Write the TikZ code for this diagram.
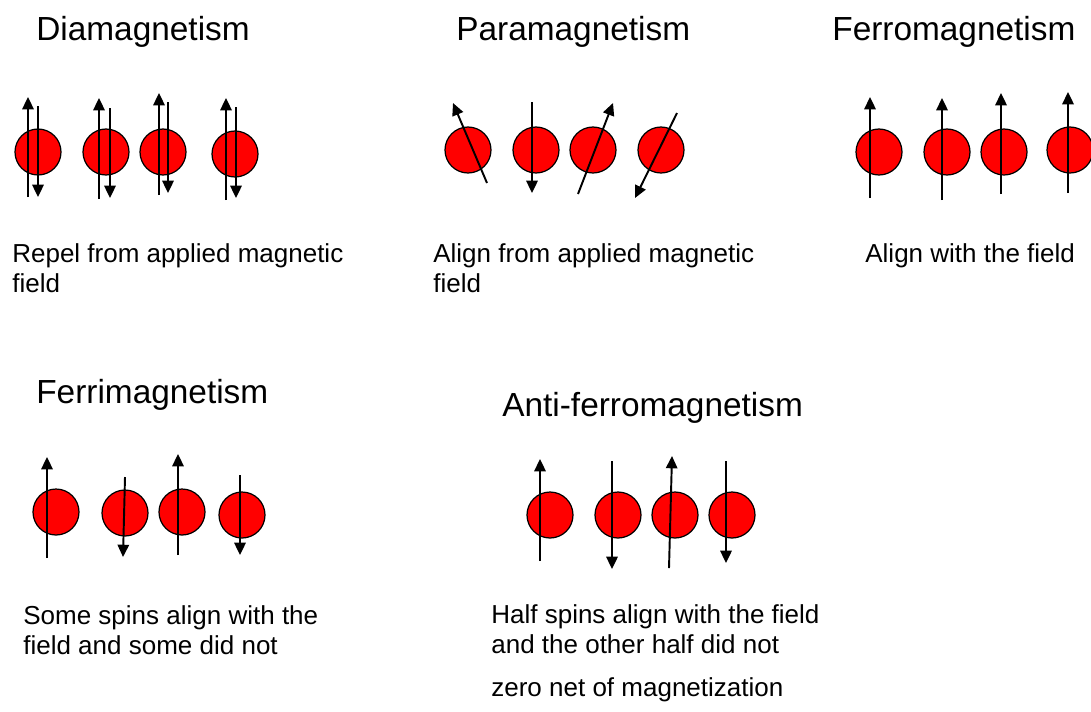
\documentclass[tikz,border=0pt]{standalone}
\usepackage{fontspec}
\setmainfont{Liberation Sans}
\usetikzlibrary{arrows.meta}

\begin{document}
\begin{tikzpicture}[
        x=0.02cm, y=-0.02cm,
        atom/.style={circle, draw=black, line width=0.7pt, fill=red, minimum size=0.92cm, inner sep=0pt},
        spin/.style={line width=1.1pt, -{Triangle[width=6.5pt,length=7pt]}},
        title/.style={anchor=base west, inner sep=0pt, font=\fontsize{19}{22}\selectfont},
        caption/.style={anchor=base west, inner sep=0pt, align=left, font=\fontsize{14.8}{17}\selectfont}
    ]
        \useasboundingbox (0,0) rectangle (1091,711);

        % Diamagnetism
        \node[title] (diatitle) at (36,40) {Diamagnetism};
        \node[atom] (dia1) at (38,152) {};
        \node[atom] (dia2) at (106,152) {};
        \node[atom] (dia3) at (163,152) {};
        \node[atom] (dia4) at (235,154) {};
        \draw[spin] (28,197) -- (28,97);
        \draw[spin] (38,106) -- (38,197);
        \draw[spin] (99,199) -- (99,98);
        \draw[spin] (110,108) -- (110,198);
        \draw[spin] (159,195) -- (159,93);
        \draw[spin] (168,102) -- (168,193);
        \draw[spin] (226,200) -- (226,98);
        \draw[spin] (236,107) -- (236,198);
        % (base anchor sits on the last line)
        \node[caption] (diatext) at (12,292) {Repel from applied magnetic\\field};

        % Paramagnetism
        \node[title] (paratitle) at (456,40) {Paramagnetism};
        \node[atom] (para1) at (468,150) {};
        \node[atom] (para2) at (536,150) {};
        \node[atom] (para3) at (593,150) {};
        \node[atom] (para4) at (661,150) {};
        \draw[spin] (487,183) -- (453,103);
        \draw[spin] (532,102) -- (532,193);
        \draw[spin] (578,194) -- (613,103);
        \draw[spin] (677,113) -- (635,198);
        \node[caption] (paratext) at (433,292) {Align from applied magnetic\\field};

        % Ferromagnetism
        \node[title] (ferrotitle) at (832,40) {Ferromagnetism};
        \node[atom] (ferro1) at (879,152) {};
        \node[atom] (ferro2) at (947,152) {};
        \node[atom] (ferro3) at (1004,152) {};
        \node[atom] (ferro4) at (1070,150) {};
        \draw[spin] (870,198) -- (870,97);
        \draw[spin] (942,200) -- (942,98);
        \draw[spin] (1001,194) -- (1001,93);
        \draw[spin] (1068,193) -- (1068,92);
        \node[caption] (ferrotext) at (865,262) {Align with the field};

        % Ferrimagnetism
        \node[title] (ferrititle) at (36,403) {Ferrimagnetism};
        \node[atom] (ferri1) at (56,512) {};
        \node[atom] (ferri2) at (125,513) {};
        \node[atom] (ferri3) at (182,512) {};
        \node[atom] (ferri4) at (242,515) {};
        \draw[spin] (47,558) -- (47,457);
        \draw[spin] (125,477) -- (123,557);
        \draw[spin] (178,555) -- (178,454);
        \draw[spin] (240,475) -- (240,555);
        \node[caption] (ferritext) at (23,654) {Some spins align with the\\field and some did not};

        % Anti-ferromagnetism
        \node[title] (antititle) at (502,416) {Anti-ferromagnetism};
        \node[atom] (anti1) at (550,515) {};
        \node[atom] (anti2) at (618,515) {};
        \node[atom] (anti3) at (675,515) {};
        \node[atom] (anti4) at (732,515) {};
        \draw[spin] (540,561) -- (540,459);
        \draw[spin] (612,461) -- (612,569);
        \draw[spin] (669,568) -- (672,456);
        \draw[spin] (726,461) -- (726,563);
        \node[caption] (antitext) at (491,653) {Half spins align with the field\\and the other half did not};
        \node[caption] (antinote) at (491,696) {zero net of magnetization};

    \end{tikzpicture}
\end{document}
